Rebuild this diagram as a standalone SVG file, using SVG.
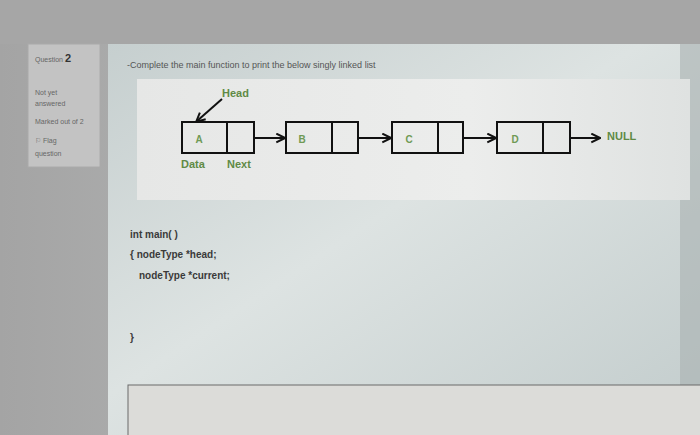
<svg xmlns="http://www.w3.org/2000/svg" width="700" height="435" viewBox="0 0 700 435">
<defs>
<linearGradient id="bg" x1="0" y1="0" x2="1" y2="0">
<stop offset="0" stop-color="#a4a4a4"/>
<stop offset="0.5" stop-color="#b4b6b6"/>
<stop offset="1" stop-color="#a0a2a2"/>
</linearGradient>
<linearGradient id="page" x1="0" y1="0" x2="1" y2="1">
<stop offset="0" stop-color="#c6cfcf"/>
<stop offset="0.45" stop-color="#dde3e2"/>
<stop offset="1" stop-color="#c2cccc"/>
</linearGradient>
<linearGradient id="panel" x1="0" y1="0" x2="1" y2="0">
<stop offset="0" stop-color="#e6e7e6"/>
<stop offset="0.6" stop-color="#ecedec"/>
<stop offset="1" stop-color="#dfe2e1"/>
</linearGradient>
<marker id="ah2" viewBox="0 0 10 10" refX="8" refY="5" markerWidth="11" markerHeight="11" orient="auto" markerUnits="userSpaceOnUse">
<path d="M1,1 L9,5 L1,9" fill="none" stroke="#111" stroke-width="1.8"/>
</marker>
<style>
.side{font-family:"Liberation Sans",Arial,sans-serif;font-size:7px;fill:#666}
.q{font-family:"Liberation Sans",Arial,sans-serif;font-size:9px;fill:#555}
.box{fill:none;stroke:#111;stroke-width:2}
.lbl{font-family:"Liberation Sans",Arial,sans-serif;font-size:10px;font-weight:bold;fill:#6f9a55;text-anchor:middle}
.glbl{font-family:"Liberation Sans",Arial,sans-serif;font-size:11px;font-weight:bold;fill:#5f8a45}
.code{font-family:"Liberation Sans",Arial,sans-serif;font-size:10px;font-weight:bold;fill:#3a3a3a}
.conn{stroke:#111;stroke-width:2;fill:none}
</style>
</defs>
<rect x="0" y="0" width="700" height="435" fill="url(#bg)"/>
<rect x="0" y="0" width="700" height="44" fill="#a6a6a6"/>
<rect x="108" y="44" width="592" height="391" fill="url(#page)"/>
<rect x="680" y="44" width="20" height="391" fill="#a9b0b0" opacity="0.6"/>

<g id="sidebar">
<rect x="28" y="44" width="72" height="123" fill="#c3c3c3" stroke="#aaa" stroke-width="1"/>
<text class="side" x="35" y="62">Question <tspan font-size="11" font-weight="bold" fill="#333">2</tspan></text>
<text class="side" x="35" y="95">Not yet</text>
<text class="side" x="35" y="106">answered</text>
<text class="side" x="35" y="124">Marked out of 2</text>
<text class="side" x="35" y="143">⚐ Flag</text>
<text class="side" x="35" y="156">question</text>
</g>

<text class="q" x="127" y="68">-Complete the main function to print the below singly linked list</text>

<rect x="137" y="79" width="553" height="121" fill="url(#panel)"/>

<g id="head">
<text class="glbl" x="222" y="97" font-size="12.5">Head</text>
</g>
<g id="nodeA">
<rect class="box" x="182" y="122" width="72" height="31"/>
<line class="conn" x1="227" y1="122" x2="227" y2="153"/>
<text class="lbl" x="199" y="143">A</text>
</g>
<g id="nodeB">
<rect class="box" x="286" y="122" width="72" height="31"/>
<line class="conn" x1="332" y1="122" x2="332" y2="153"/>
<text class="lbl" x="302" y="143">B</text>
</g>
<g id="nodeC">
<rect class="box" x="392" y="122" width="71" height="31"/>
<line class="conn" x1="438" y1="122" x2="438" y2="153"/>
<text class="lbl" x="409" y="143">C</text>
</g>
<g id="nodeD">
<rect class="box" x="497" y="122" width="73" height="31"/>
<line class="conn" x1="543" y1="122" x2="543" y2="153"/>
<text class="lbl" x="515" y="143">D</text>
</g>
<g id="null">
<text class="glbl" x="607" y="140">NULL</text>
</g>
<text class="glbl" x="181" y="168">Data</text>
<text class="glbl" x="227" y="168">Next</text>

<g id="connectors">
<line class="conn" x1="222" y1="99" x2="197" y2="121" marker-end="url(#ah2)"/>
<line class="conn" x1="254" y1="138" x2="284" y2="138" marker-end="url(#ah2)"/>
<line class="conn" x1="358" y1="138" x2="390" y2="138" marker-end="url(#ah2)"/>
<line class="conn" x1="463" y1="138" x2="495" y2="138" marker-end="url(#ah2)"/>
<line class="conn" x1="570" y1="138" x2="599" y2="138" marker-end="url(#ah2)"/>
</g>

<text class="code" x="130" y="238">int main( )</text>
<text class="code" x="130" y="258">{  nodeType *head;</text>
<text class="code" x="139" y="279">nodeType *current;</text>
<text class="code" x="130" y="341">}</text>

<rect x="128" y="385" width="580" height="55" fill="#dcdcd9" stroke="#6a6a6a" stroke-width="1"/>
</svg>
